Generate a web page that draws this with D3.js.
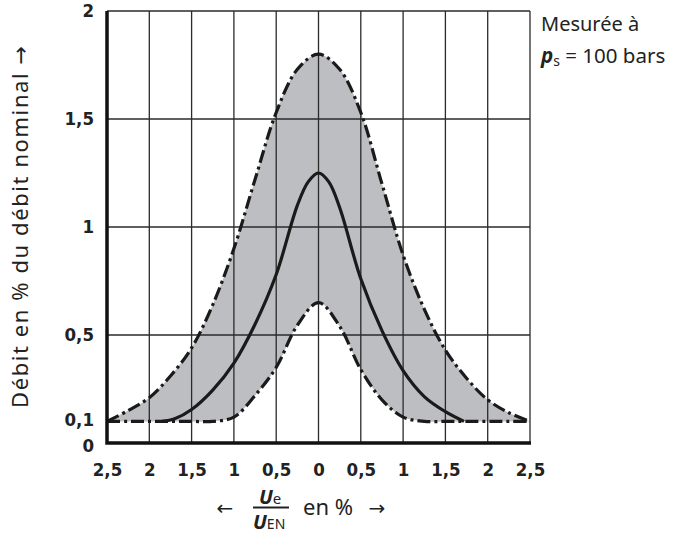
<!DOCTYPE html>
<html>
<head>
<meta charset="utf-8">
<script src="https://cdn.jsdelivr.net/npm/d3@7"></script>
<style>
  html, body { margin: 0; padding: 0; background: #fff; }
  svg { display: block; }
  .tick-label { font-family: "Liberation Sans Narrow", "DejaVu Sans Condensed", "Roboto Condensed", sans-serif; font-weight: bold; font-stretch: condensed; }
  .label { font-family: "Noto Sans", "DejaVu Sans", sans-serif; fill: #222; }
</style>
</head>
<body>
<div id="chart"></div>
<script>
// x = Ue/UEN in %, y = flow in fraction of nominal flow
const x_values = [-2.5, -2.25, -2, -1.75, -1.5, -1.25, -1, -0.75, -0.5, -0.25, 0,
                  0.25, 0.5, 0.75, 1, 1.25, 1.5, 1.75, 2, 2.25, 2.5]
const upper_values = [0.1, 0.15, 0.21, 0.31, 0.44, 0.64, 0.9, 1.22, 1.53, 1.73, 1.8,
                      1.73, 1.53, 1.2, 0.87, 0.62, 0.43, 0.3, 0.2, 0.14, 0.1]
const lower_values = [0.1, 0.1, 0.1, 0.1, 0.1, 0.1, 0.12, 0.22, 0.35, 0.545, 0.65,
                      0.54, 0.34, 0.2, 0.12, 0.1, 0.1, 0.1, 0.1, 0.1, 0.1]
const nominal_x = [-1.85, -1.7, -1.5, -1.25, -1, -0.75, -0.5, -0.25, -0.12, 0,
                   0.12, 0.25, 0.5, 0.75, 1, 1.25, 1.5, 1.72]
const nominal_values = [0.1, 0.112, 0.155, 0.245, 0.37, 0.55, 0.78, 1.1, 1.21, 1.25,
                        1.21, 1.09, 0.76, 0.52, 0.335, 0.215, 0.145, 0.1]

const x_ticks = [-2.5, -2, -1.5, -1, -0.5, 0, 0.5, 1, 1.5, 2, 2.5]
const y_ticks = [0, 0.1, 0.5, 1, 1.5, 2]
const y_grid = [0.5, 1, 1.5, 2]

const config = { width: 689, height: 536, left: 107, right: 530, top: 11, bottom: 443 }

const x = d3.scaleLinear().domain([-2.5, 2.5]).range([config.left, config.right])
const y = d3.scaleLinear().domain([0, 2]).range([config.bottom, config.top])

const band = x_values.map((v, i) => ({ x: v, lo: lower_values[i], hi: upper_values[i] }))
const dash_dot = "13,4,3,4"
const curve = d3.curveCatmullRom.alpha(0.5)

const svg = d3.select("#chart")
    .append("svg")
    .attr("width", config.width)
    .attr("height", config.height)

/* GREY BAND */
function addArea() {
    svg.append("path")
        .datum(band)
        .attr("fill", "#bdbec1")
        .attr("d", d3.area()
            .curve(curve)
            .x(d => x(d.x))
            .y0(d => y(d.lo))
            .y1(d => y(d.hi)))
}

/* GRID */
function addGrid() {
    const g = svg.append("g").attr("stroke", "#2a2a2a").attr("stroke-width", 1.3)
    g.selectAll(".vgrid")
        .data(x_ticks.slice(1))
        .join("line")
        .attr("x1", d => x(d)).attr("x2", d => x(d))
        .attr("y1", y(0)).attr("y2", y(2))
    g.selectAll(".hgrid")
        .data(y_grid)
        .join("line")
        .attr("x1", x(-2.5)).attr("x2", x(2.5))
        .attr("y1", d => y(d)).attr("y2", d => y(d))
}

/* LINES */
function addLine(xs, ys, dash) {
    const pts = xs.map((v, i) => [v, ys[i]])
    svg.append("path")
        .datum(pts)
        .attr("fill", "none")
        .attr("stroke", "#1a1a1a")
        .attr("stroke-width", 3.2)
        .attr("stroke-dasharray", dash)
        .attr("d", d3.line()
            .curve(curve)
            .x(d => x(d[0]))
            .y(d => y(d[1])))
}

/* AXES */
function addAxis() {
    const fmt = d => String(Math.abs(d)).replace(".", ",")

    const xa = svg.append("g")
        .attr("transform", `translate(0, ${config.bottom})`)
        .call(d3.axisBottom(x).tickValues(x_ticks).tickSize(0).tickPadding(20).tickFormat(fmt))
    xa.select(".domain").remove()
    xa.selectAll(".tick text")
        .attr("class", "tick-label")
        .style("font-size", "18.5px")
        .attr("fill", "#222")

    const ya = svg.append("g")
        .attr("transform", `translate(${config.left}, 0)`)
        .call(d3.axisLeft(y).tickValues(y_ticks).tickSize(0).tickPadding(13).tickFormat(fmt))
    ya.select(".domain").remove()
    ya.selectAll(".tick text")
        .attr("class", "tick-label")
        .style("font-size", "18.5px")
        .attr("fill", "#222")
    // keep "0" and "0,1" apart like the printed chart
    ya.selectAll(".tick text").filter(d => d === 0).attr("dy", "0.45em")
    ya.selectAll(".tick text").filter(d => d === 0.1).attr("dy", "0.2em")

    // thick left and bottom axis lines
    svg.append("path")
        .attr("fill", "none")
        .attr("stroke", "#111")
        .attr("stroke-width", 3.5)
        .attr("d", `M${x(-2.5)},${y(2)}V${y(0)}H${x(2.5) + 1}`)
}

/* TEXTS */
function addLabels() {
    svg.append("text")
        .attr("class", "label")
        .attr("transform", `translate(28, 227) rotate(-90)`)
        .attr("text-anchor", "middle")
        .attr("textLength", 362)
        .attr("lengthAdjust", "spacing")
        .style("font-size", "22px")
        .text("Débit en % du débit nominal →")

    svg.append("text")
        .attr("class", "label")
        .attr("x", 541).attr("y", 31)
        .style("font-size", "20px")
        .text("Mesurée à")

    const ps = svg.append("text")
        .attr("class", "label")
        .attr("x", 541).attr("y", 63)
        .style("font-size", "20.5px")
    ps.append("tspan").style("font-weight", "bold").style("font-style", "italic").text("p")
    ps.append("tspan").style("font-size", "14px").attr("dy", 3).text("s")
    ps.append("tspan").attr("dy", -3).text(" = 100 bars")

    // x title: arrows, fraction Ue / UEN, "en %"
    svg.append("text").attr("class", "label")
        .attr("x", 225).attr("y", 515).attr("text-anchor", "middle")
        .style("font-size", "20px").text("←")

    const num = svg.append("text").attr("class", "label").attr("x", 259).attr("y", 504)
    num.append("tspan").style("font-weight", "bold").style("font-style", "italic")
        .style("font-size", "20px").text("U")
    num.append("tspan").style("font-size", "15px").text("e")

    svg.append("line")
        .attr("x1", 253).attr("x2", 289)
        .attr("y1", 507.5).attr("y2", 507.5)
        .attr("stroke", "#222").attr("stroke-width", 1.8)

    const den = svg.append("text").attr("class", "label").attr("x", 253).attr("y", 529)
    den.append("tspan").style("font-weight", "bold").style("font-style", "italic")
        .style("font-size", "20px").text("U")
    den.append("tspan").style("font-size", "14px").text("EN")

    svg.append("text").attr("class", "label")
        .attr("x", 303).attr("y", 515)
        .style("font-size", "22px").text("en %")

    svg.append("text").attr("class", "label")
        .attr("x", 377).attr("y", 515).attr("text-anchor", "middle")
        .style("font-size", "20px").text("→")
}

addArea()
addGrid()
addLine(x_values, upper_values, dash_dot)
addLine(x_values, lower_values, dash_dot)
addLine(nominal_x, nominal_values, null)
addAxis()
addLabels()
</script>
</body>
</html>
